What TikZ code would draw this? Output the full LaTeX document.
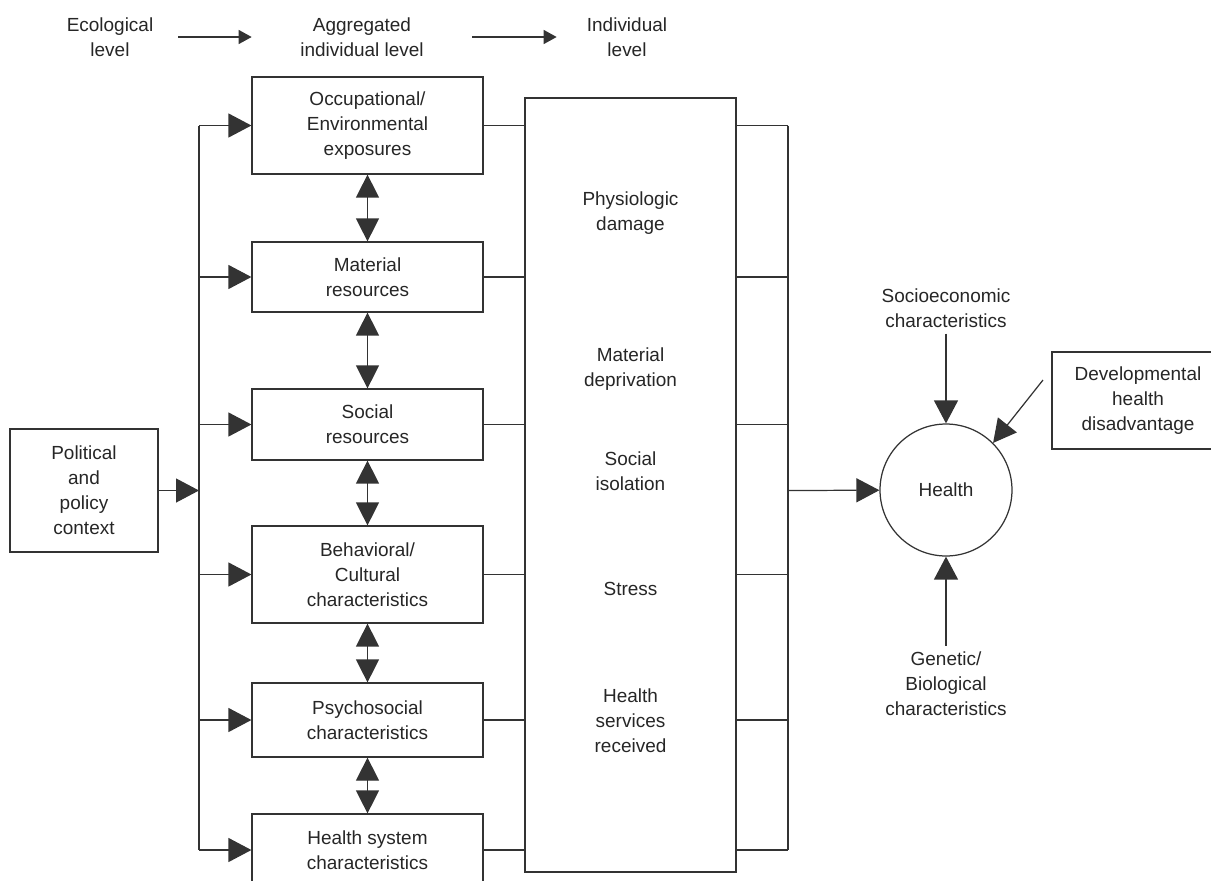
\documentclass[tikz,border=0pt]{standalone}
\usepackage{fontspec}
\setmainfont{Liberation Sans}
\usetikzlibrary{arrows.meta}

\begin{document}
\begin{tikzpicture}[
            x=0.02cm, y=-0.02cm,
            every node/.style={font=\fontsize{10.8}{14.2}\selectfont, align=center, text=black!85},
            box/.style={rectangle, draw=black!80, line width=0.7pt, minimum width=4.62cm, inner sep=2pt},
            lvl/.style={inner sep=0pt},
            link/.style={draw=black!80, line width=0.7pt},
            arrow/.style={-{Triangle[length=0.46cm,width=0.48cm]}, link},
            dblarrow/.style={{Triangle[length=0.46cm,width=0.46cm]}-{Triangle[length=0.46cm,width=0.46cm]}, link},
            toparrow/.style={-{Triangle[length=0.26cm,width=0.28cm]}, link}
        ]
            \clip (0,0) rectangle (1211,880);

            % levels
            \node[lvl, minimum width=2.72cm] (eco) at (110,37) {Ecological\\level};
            \node[lvl, minimum width=4.4cm] (agg) at (362,37) {Aggregated\\individual level};
            \node[lvl, minimum width=2.8cm] (ind) at (627,37) {Individual\\level};
            \draw[toparrow] (eco) -- (agg);
            \draw[toparrow] (agg) -- (ind);

            % pathways
            \node[box, minimum width=2.96cm, minimum height=2.46cm] (pol) at (84,490.5) {Political\\and\\policy\\context};
            \node[box, minimum height=1.94cm] (occ) at (367.5,125.5) {Occupational/\\Environmental\\exposures};
            \node[box, minimum height=1.40cm] (mat) at (367.5,277) {Material\\resources};
            \node[box, minimum height=1.42cm] (soc) at (367.5,424.5) {Social\\resources};
            \node[box, minimum height=1.94cm] (beh) at (367.5,574.5) {Behavioral/\\Cultural\\characteristics};
            \node[box, minimum height=1.48cm] (psy) at (367.5,720) {Psychosocial\\characteristics};
            \node[box, minimum height=1.44cm] (hsys) at (367.5,850) {Health system\\characteristics};

            \node[box, minimum width=4.22cm, minimum height=15.48cm] (paths) at (630.5,485) {};
            \node (dmg) at (630.5,213) {Physiologic\\damage};
            \node (depr) at (630.5,369) {Material\\deprivation};
            \node (iso) at (630.5,471) {Social\\isolation};
            \node (stress) at (630.5,589) {Stress};
            \node (serv) at (630.5,721) {Health\\services\\received};

            \coordinate (busL) at (199,490.5);
            \coordinate (busR) at (788,490.5);

            % outcome
            \node[circle, draw=black!80, line width=0.7pt, minimum size=2.64cm, inner sep=0pt] (health) at (946,490) {Health};
            \node (socio) at (946,308) {Socioeconomic\\characteristics};
            \node (gene) at (946,684) {Genetic/\\Biological\\characteristics};
            \node[box, minimum width=3.44cm, minimum height=1.94cm] (dev) at (1138,400.5) {Developmental\\health\\disadvantage};
            \coordinate (devtail) at (1043,380);

            \draw[arrow] (pol) -- (busL);
            \draw[link] (busL |- occ) -- (busL |- hsys);
            \draw[link] (busR |- occ) -- (busR |- hsys);
            \foreach \b in {occ,mat,soc,beh,psy,hsys} {
                \draw[arrow] (busL |- \b) -- (\b);
                \draw[link] (\b) -- (paths.west |- \b);
                \draw[link] (paths.east |- \b) -- (busR |- \b);
            }
            \foreach \a/\b in {occ/mat,mat/soc,soc/beh,beh/psy,psy/hsys}
                \draw[dblarrow] (\a) -- (\b);

            \draw[arrow] (busR) -- (health);
            \draw[arrow] (socio) -- (health);
            \draw[arrow] (gene) -- (health);
            \draw[arrow] (devtail) -- (health.45);
        \end{tikzpicture}
\end{document}
